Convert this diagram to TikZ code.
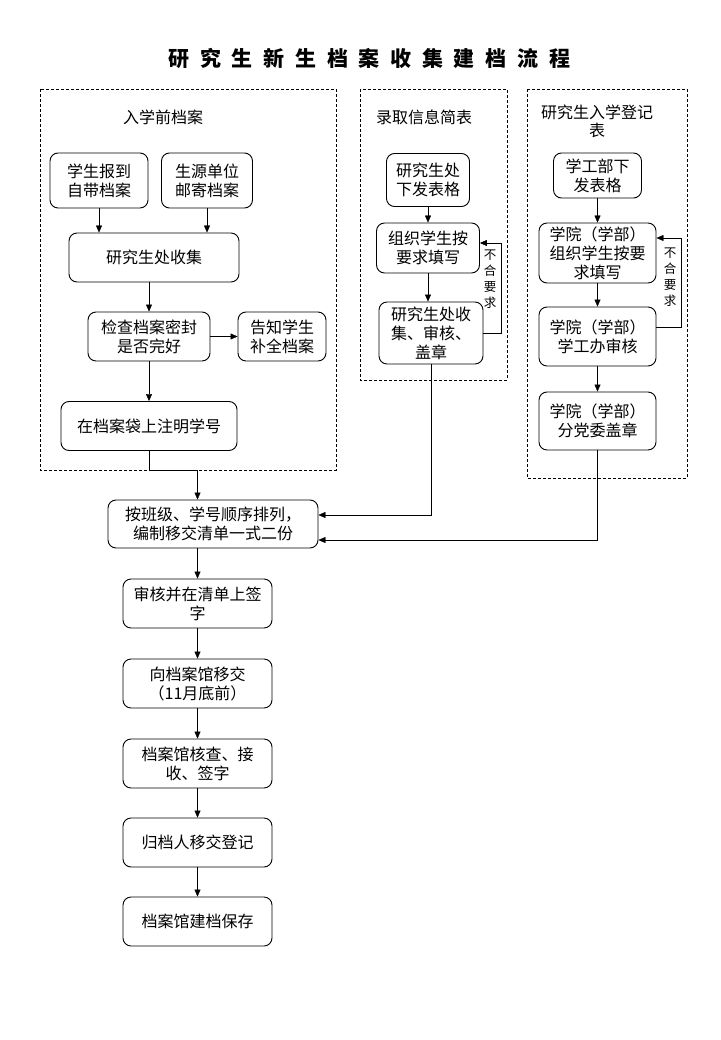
\documentclass[tikz,border=0pt]{standalone}
\usepackage{fontspec}
\setmainfont{Noto Sans CJK SC}
\usetikzlibrary{arrows.meta,positioning}

\begin{document}
\begin{tikzpicture}[x=1pt, y=-1pt, >={Triangle[length=7pt,width=6pt]},
  every node/.style={font=\fontsize{16}{19}\selectfont},
  box/.style={draw, rounded corners=8pt, align=center, inner sep=0pt, line width=0.9pt},
  group/.style={draw, dash pattern=on 3pt off 2pt, line width=0.8pt},
  note/.style={align=center, font=\fontsize{12.5}{16}\selectfont}]
\useasboundingbox (0,0) rectangle (720,1040);
\node[anchor=west, font=\bfseries\fontsize{21}{24}\selectfont\addfontfeature{LetterSpace=51}] (title) at (165,58) {研究生新生档案收集建档流程};

% groups
\draw[group] (40,89) rectangle (336,470);
\draw[group] (360,89) rectangle (507,380);
\draw[group] (527,89) rectangle (687,478);

% before enrolment
\node (label1) at (163,117) {入学前档案};
\node[box, minimum width=98pt, minimum height=55pt] (bring) at (99,180.5) {学生报到\\自带档案};
\node[box, minimum width=91pt, minimum height=55pt] (mail) at (207,180.5) {生源单位\\邮寄档案};
\node[box, minimum width=170pt, minimum height=49pt] (collect) at (154,257.5) {研究生处收集};
\node[box, minimum width=122pt, minimum height=49pt] (check) at (149,336.5) {检查档案密封\\是否完好};
\node[box, minimum width=88pt, minimum height=49pt] (notify) at (282,336.5) {告知学生\\补全档案};
\node[box, minimum width=176pt, minimum height=49pt] (mark) at (149,426) {在档案袋上注明学号};
\draw[->] (bring.south) -- (bring.south |- collect.north);
\draw[->] (mail.south) -- (mail.south |- collect.north);
\draw[->] (check.north |- collect.south) -- (check.north);
\draw[->] (check) -- (notify);
\draw[->] (check) -- (mark);

% admission form
\node (label2) at (424,117) {录取信息简表};
\node[box, minimum width=83pt, minimum height=53pt] (issue) at (428,180) {研究生处\\下发表格};
\node[box, minimum width=103pt, minimum height=50pt] (fill) at (428,248) {组织学生按\\要求填写};
\node[box, minimum width=104pt, minimum height=62pt] (review) at (431,333) {研究生处收\\集、审核、\\盖章};
\draw[->] (issue) -- (fill);
\draw[->] (fill.south) -- (fill.south |- review.north);
\draw[->] (review.east) -- ++(18,0) |- ([yshift=5pt]fill.east);
\node[note] (redo2) at (490,279) {不\\合\\要\\求};

% registration form
\node[align=center, font=\fontsize{16}{18}\selectfont] (label3) at (597,121) {研究生入学登记\\表};
\node[box, minimum width=88pt, minimum height=45pt] (form) at (597.5,175.5) {学工部下\\发表格};
\node[box, minimum width=117pt, minimum height=60pt] (dept) at (597.5,253) {学院（学部）\\组织学生按要\\求填写};
\node[box, minimum width=117pt, minimum height=59pt] (office) at (597.5,336.5) {学院（学部）\\学工办审核};
\node[box, minimum width=117pt, minimum height=58pt] (party) at (597.5,421) {学院（学部）\\分党委盖章};
\draw[->] (form) -- (dept);
\draw[->] (dept) -- (office);
\draw[->] (office) -- (party);
\draw[->] ([yshift=9pt]office.east) -- ++(25,0) |- ([yshift=15pt]dept.east);
\node[note] (redo3) at (670,277) {不\\合\\要\\求};

% hand-over chain
\node[box, minimum width=210pt, minimum height=48pt] (sort) at (213,524) {按班级、学号顺序排列，\\编制移交清单一式二份};
\node[box, minimum width=149pt, minimum height=49pt] (sign) at (197.5,603.5) {审核并在清单上签\\字};
\node[box, minimum width=149pt, minimum height=49pt] (hand) at (197.5,683.5) {向档案馆移交\\（11月底前）};
\node[box, minimum width=149pt, minimum height=49pt] (verify) at (197.5,763.5) {档案馆核查、接\\收、签字};
\node[box, minimum width=149pt, minimum height=49pt] (register) at (197.5,842.5) {归档人移交登记};
\node[box, minimum width=149pt, minimum height=49pt] (store) at (197.5,921.5) {档案馆建档保存};
\coordinate (join) at (197.5,470);
\draw[->] (mark.south) |- (join) -- (join |- sort.north);
\draw[->] (review.south) |- ([yshift=9pt]sort.east);
\draw[->] (party.south) |- ([yshift=-16pt]sort.east);
\draw[->] (sign.north |- sort.south) -- (sign.north);
\draw[->] (sign) -- (hand);
\draw[->] (hand) -- (verify);
\draw[->] (verify) -- (register);
\draw[->] (register) -- (store);
\end{tikzpicture}
\end{document}
